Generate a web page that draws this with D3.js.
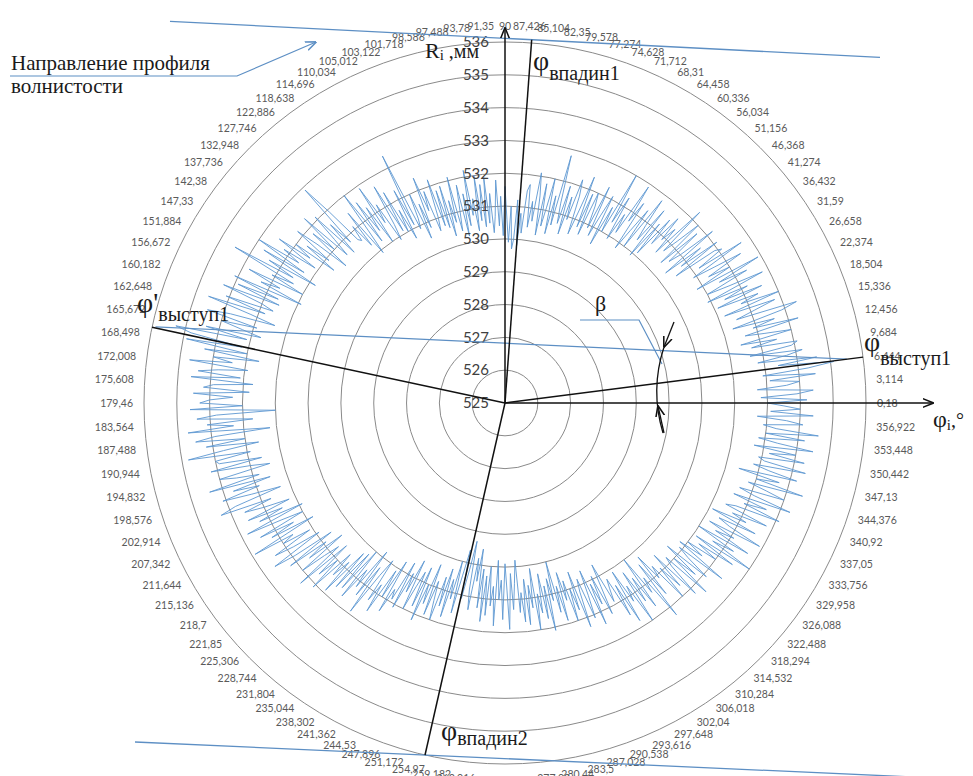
<!DOCTYPE html>
<html>
<head>
<meta charset="utf-8">
<script src="https://cdn.jsdelivr.net/npm/d3@7"></script>
<style>
  body { margin: 0; background: #fff; }
  svg { display: block; background: #fff; }
  .ring { fill: none; stroke: #8a8a8a; stroke-width: 1; }
  .catLabel { font-family: Lato, "Open Sans", sans-serif; font-size: 10.5px; fill: #5a5a5a; }
  .valLabel { font-family: Lato, "Open Sans", sans-serif; font-size: 15px; fill: #404040; }
  .note { font-family: "Liberation Serif", "DejaVu Serif", serif; fill: #1a1a1a; }
</style>
</head>
<body>
<div id="chart"></div>
<script>
var svgWidth = 973;
var svgHeight = 776;
var cx = 505;
var cy = 403;

// category labels round the chart (angle, degrees, as printed)
var angleLabels = [
  "0,18", "3,114", "6,444", "9,684", "12,456", "15,336", "18,504", "22,374", "26,658", "31,59",
  "36,432", "41,274", "46,368", "51,156", "56,034", "60,336", "64,458", "68,31", "71,712", "74,628",
  "77,274", "79,578", "82,35", "85,104", "87,426", "90", "91,35", "93,78", "97,488", "98,586",
  "101,718", "103,122", "105,012", "110,034", "114,696", "118,638", "122,886", "127,746", "132,948", "137,736",
  "142,38", "147,33", "151,884", "156,672", "160,182", "162,648", "165,672", "168,498", "172,008", "175,608",
  "179,46", "183,564", "187,488", "190,944", "194,832", "198,576", "202,914", "207,342", "211,644", "215,136",
  "218,7", "221,85", "225,306", "228,744", "231,804", "235,044", "238,302", "241,362", "244,53", "247,896",
  "251,172", "254,97", "259,182", "263,016", "266,76", "270,09", "273,546", "277,02", "280,44", "283,5",
  "287,028", "290,538", "293,616", "297,648", "302,04", "306,018", "310,284", "314,532", "318,294", "322,488",
  "326,088", "329,958", "333,756", "337,05", "340,92", "344,376", "347,13", "350,442", "353,448", "356,922"
];

// radius axis ticks, mm
var radiusTicks = [525, 526, 527, 528, 529, 530, 531, 532, 533, 534, 535, 536];

// measured radius Ri, mm, 600 points counter-clockwise from 0°
var profileRadius = [
  533.0, 534.2, 532.8, 533.9, 534.4, 532.7, 533.6, 534.0, 533.1, 534.5, 532.9, 534.3, 535.1, 533.4, 534.6, 532.8, 533.7, 534.2, 532.6, 533.9,
  534.1, 532.7, 533.5, 532.4, 534.0, 533.2, 532.6, 534.3, 532.9, 533.6, 532.3, 533.9, 534.4, 532.5, 533.1, 533.8, 532.2, 534.0, 532.8, 533.4,
  532.1, 533.6, 532.4, 533.2, 531.9, 533.8, 532.7, 532.0, 533.4, 532.5, 533.9, 531.8, 533.0, 532.3, 533.5, 532.6, 531.9, 533.7, 532.2, 533.1,
  532.9, 531.5, 533.1, 531.8, 532.6, 531.3, 533.2, 532.0, 531.6, 532.8, 531.4, 533.0, 532.2, 531.7, 533.3, 531.5, 532.4, 531.9, 532.7, 531.6,
  532.5, 531.1, 532.2, 530.9, 532.6, 531.4, 531.9, 532.8, 531.0, 532.3, 531.5, 530.8, 532.4, 531.7, 532.9, 531.2, 531.8, 530.9, 532.3, 531.4,
  533.0, 531.0, 531.8, 530.5, 532.1, 531.4, 530.7, 532.3, 530.9, 531.6, 532.0, 530.6, 531.9, 530.8, 532.4, 531.2, 530.5, 531.7, 532.2, 530.9,
  531.6, 530.4, 531.9, 530.7, 531.3, 532.8, 530.6, 531.5, 530.3, 532.0, 531.1, 530.5, 531.8, 530.2, 531.4, 532.1, 530.6, 531.2, 530.4, 531.7,
  531.5, 530.2, 530.8, 529.8, 531.2, 530.0, 529.7, 531.0, 529.9, 530.6, 531.6, 530.1, 531.3, 530.4, 531.8, 530.7, 530.2, 531.4, 530.5, 531.9,
  530.4, 531.7, 530.6, 532.0, 530.3, 531.3, 530.8, 532.2, 530.5, 531.5, 530.2, 531.8, 531.0, 530.4, 532.1, 530.7, 531.4, 530.3, 531.9, 530.6,
  531.8, 530.7, 532.2, 531.0, 530.6, 531.9, 531.3, 532.4, 530.8, 531.6, 530.5, 532.0, 531.2, 530.9, 533.4, 531.1, 532.3, 530.7, 531.7, 531.0,
  532.4, 531.1, 532.7, 531.4, 530.9, 532.2, 531.6, 532.9, 531.0, 532.3, 531.5, 532.6, 531.2, 533.0, 531.7, 530.9, 532.5, 531.3, 532.1, 531.6,
  531.7, 532.9, 533.9, 531.8, 532.6, 531.5, 533.1, 532.2, 531.6, 533.3, 532.0, 532.8, 531.4, 532.5, 533.2, 531.9, 532.7, 531.6, 533.0, 532.4,
  533.5, 532.1, 533.2, 532.6, 534.0, 532.3, 533.7, 531.8, 533.4, 532.5, 534.5, 532.4, 533.1, 532.0, 533.8, 532.7, 533.3, 531.9, 534.1, 532.6,
  533.9, 532.5, 534.3, 533.0, 532.6, 534.1, 532.8, 534.6, 533.2, 532.4, 533.8, 534.5, 532.9, 534.0, 533.3, 532.7, 534.4, 533.1, 535.3, 534.8,
  533.2, 534.9, 533.0, 534.3, 532.6, 534.0, 533.4, 534.7, 532.9, 533.8, 534.4, 533.1, 534.6, 532.7, 533.9, 534.2, 532.8, 534.5, 533.3, 534.0,
  534.3, 533.0, 534.6, 532.0, 533.8, 534.4, 532.7, 534.1, 533.3, 534.7, 532.2, 533.9, 534.5, 533.0, 534.2, 532.6, 533.7, 534.8, 532.9, 534.0,
  533.9, 532.6, 534.2, 533.0, 532.4, 534.0, 533.5, 532.8, 534.4, 532.5, 533.7, 532.9, 534.1, 533.2, 532.3, 533.8, 534.3, 532.7, 533.6, 533.0,
  532.2, 533.6, 532.5, 533.3, 531.9, 533.8, 532.7, 532.0, 533.5, 532.4, 533.2, 531.8, 533.9, 532.6, 533.0, 532.1, 533.4, 532.8, 531.9, 533.6,
  532.9, 531.6, 533.2, 531.9, 532.6, 531.4, 533.0, 532.2, 531.7, 533.3, 531.5, 532.7, 532.0, 533.1, 531.6, 532.4, 531.8, 532.9, 531.3, 532.6,
  531.2, 532.5, 531.0, 532.7, 531.6, 532.2, 530.8, 532.4, 531.3, 532.9, 531.5, 530.9, 532.3, 531.7, 532.6, 531.1, 532.0, 530.7, 532.4, 531.6,
  531.9, 530.6, 532.1, 530.9, 531.5, 530.4, 532.0, 531.2, 530.7, 531.8, 530.5, 532.2, 531.0, 531.6, 530.3, 531.9, 530.8, 531.4, 532.0, 530.6,
  531.5, 530.3, 531.8, 530.6, 531.2, 530.0, 531.6, 530.4, 529.6, 531.1, 530.2, 529.3, 530.8, 531.4, 529.8, 530.5, 529.5, 531.3, 530.1, 531.7,
  530.3, 531.5, 530.0, 531.2, 530.6, 531.8, 529.8, 531.0, 530.4, 531.6, 529.9, 530.7, 531.9, 530.2, 531.3, 530.5, 529.8, 531.4, 530.8, 531.7,
  530.4, 531.8, 530.6, 531.3, 530.1, 532.0, 530.9, 531.5, 530.3, 531.7, 530.7, 532.1, 530.5, 531.2, 530.0, 531.6, 530.8, 531.9, 530.4, 531.3,
  530.7, 532.0, 531.0, 531.7, 530.5, 532.3, 531.2, 530.8, 532.1, 531.4, 530.6, 532.4, 531.1, 531.8, 530.9, 532.2, 531.3, 530.6, 531.9, 531.5,
  531.2, 532.5, 531.5, 532.8, 531.1, 532.2, 531.7, 533.0, 531.3, 532.4, 531.6, 532.7, 531.0, 532.3, 531.8, 533.3, 531.4, 532.6, 531.2, 532.1,
  531.7, 533.0, 531.9, 532.7, 531.5, 533.2, 532.1, 531.8, 533.4, 532.0, 532.8, 531.6, 533.1, 532.3, 531.9, 533.5, 531.8, 532.6, 532.0, 533.0,
  532.3, 533.5, 532.1, 534.0, 532.6, 533.3, 532.0, 533.7, 532.5, 533.1, 532.2, 533.9, 532.8, 532.4, 533.6, 532.1, 533.2, 532.7, 533.8, 532.4,
  532.7, 534.1, 532.9, 533.6, 532.5, 534.3, 533.1, 532.6, 534.0, 533.4, 532.8, 534.5, 533.0, 533.7, 532.4, 534.2, 533.3, 532.8, 534.4, 533.1,
  532.9, 534.3, 533.2, 534.0, 532.7, 534.5, 533.4, 532.8, 534.2, 533.0, 534.6, 533.3, 532.9, 534.1, 533.6, 532.7, 534.4, 533.1, 534.0, 533.5
];

// marked directions: valleys and peaks (degrees, end radius mm)
var markAngles = [85.8, 257.2, 7.3, 167.9];
var markRadius = [536.1, 536.0, 536.0, 536.0];

var svg = d3
  .select("#chart")
  .append("svg")
  .attr("width", svgWidth)
  .attr("height", svgHeight);

var rScale = d3.scaleLinear().domain([525, 536]).range([0, 361]);
var aScale = d3
  .scaleLinear()
  .domain([0, profileRadius.length])
  .range([0, 2 * Math.PI]);
var labelScale = d3
  .scaleLinear()
  .domain([0, angleLabels.length])
  .range([0, 360]);

// polar (deg counter-clockwise from east, mm) -> screen
function pt(deg, mm) {
  var a = (deg * Math.PI) / 180;
  var r = rScale(mm);
  return [cx + r * Math.cos(a), cy - r * Math.sin(a)];
}

var defs = svg.append("defs");
function addArrow(id, color) {
  defs
    .append("marker")
    .attr("id", id)
    .attr("viewBox", "0 0 10 10")
    .attr("refX", 9.5)
    .attr("refY", 5)
    .attr("markerWidth", 11)
    .attr("markerHeight", 11)
    .attr("markerUnits", "userSpaceOnUse")
    .attr("orient", "auto")
    .append("path")
    .attr("d", "M0,1 L10,5 L0,9")
    .attr("fill", "none")
    .attr("stroke", color)
    .attr("stroke-width", 1.4);
}
addArrow("arrowBlack", "#111");
addArrow("arrowBlue", "#5d8fc4");

// rings
svg
  .append("g")
  .selectAll("circle")
  .data(radiusTicks.slice(1))
  .enter()
  .append("circle")
  .attr("class", "ring")
  .attr("cx", cx)
  .attr("cy", cy)
  .attr("r", (d) => rScale(d));

// profile line
var radial = d3
  .lineRadial()
  .angle((d, i) => Math.PI / 2 - aScale(i))
  .radius((d) => rScale(d))
  .curve(d3.curveLinearClosed);

svg
  .append("path")
  .datum(profileRadius)
  .attr("transform", `translate(${cx},${cy})`)
  .attr("d", radial)
  .attr("fill", "none")
  .attr("stroke", "#5e97d1")
  .attr("stroke-width", 0.9)
  .attr("stroke-linejoin", "miter");

// radius value labels
svg
  .append("g")
  .selectAll("text")
  .data(radiusTicks)
  .enter()
  .append("text")
  .attr("class", "valLabel")
  .attr("x", cx - 16)
  .attr("y", (d) => cy - rScale(d))
  .attr("dy", "0.35em")
  .attr("text-anchor", "end")
  .text((d) => d);

// angle labels round the outside
var labelR = rScale(536) + 11;
svg
  .append("g")
  .selectAll("text")
  .data(angleLabels)
  .enter()
  .append("text")
  .attr("class", "catLabel")
  .attr("text-anchor", "middle")
  .attr("dominant-baseline", "central")
  .text((d) => d)
  .each(function (d, i) {
    var th = (labelScale(i) * Math.PI) / 180;
    var w = this.getComputedTextLength();
    var h = 11;
    var px = cx + labelR * Math.cos(th);
    var py = cy - labelR * Math.sin(th);
    d3.select(this)
      .attr("x", px + (w / 2) * Math.cos(th))
      .attr("y", py - (h / 2) * Math.sin(th));
  });

// blue guide lines
var blue = "#5d8fc4";
var topEnd = pt(markAngles[0], markRadius[0]);
svg
  .append("line")
  .attr("x1", 170)
  .attr("y1", topEnd[1] - (topEnd[0] - 170) * 0.0507)
  .attr("x2", 880)
  .attr("y2", topEnd[1] + (880 - topEnd[0]) * 0.0507)
  .attr("stroke", blue)
  .attr("stroke-width", 1.3);

var botEnd = pt(markAngles[1], markRadius[1]);
svg
  .append("line")
  .attr("x1", 135)
  .attr("y1", botEnd[1] - (botEnd[0] - 135) * 0.045)
  .attr("x2", 973)
  .attr("y2", botEnd[1] + (973 - botEnd[0]) * 0.045)
  .attr("stroke", blue)
  .attr("stroke-width", 1.3);

// peak to peak line
var peakL = pt(167.7, 535.9);
var peakR = pt(7.3, 535.5);
svg
  .append("line")
  .attr("x1", peakL[0])
  .attr("y1", peakL[1])
  .attr("x2", peakR[0])
  .attr("y2", peakR[1])
  .attr("stroke", blue)
  .attr("stroke-width", 1.2);

// direction of waviness arrow
svg
  .append("path")
  .attr("d", "M10,76 L237,76 L316,42")
  .attr("fill", "none")
  .attr("stroke", blue)
  .attr("stroke-width", 1.2)
  .attr("marker-end", "url(#arrowBlue)");

// beta pointer
svg
  .append("path")
  .attr("d", `M${cx + 75},${cy - 83} L${cx + 134},${cy - 83} L${cx + 157},${cy - 39}`)
  .attr("fill", "none")
  .attr("stroke", blue)
  .attr("stroke-width", 1.2);

// axes arrows
svg
  .append("line")
  .attr("x1", cx)
  .attr("y1", cy)
  .attr("x2", cx)
  .attr("y2", cy - 375)
  .attr("stroke", "#111")
  .attr("stroke-width", 1.5)
  .attr("marker-end", "url(#arrowBlack)");

svg
  .append("line")
  .attr("x1", cx)
  .attr("y1", cy)
  .attr("x2", cx + 428)
  .attr("y2", cy)
  .attr("stroke", "#111")
  .attr("stroke-width", 1.5)
  .attr("marker-end", "url(#arrowBlack)");

// marked direction lines
svg
  .append("g")
  .selectAll("line")
  .data(markAngles)
  .enter()
  .append("line")
  .attr("x1", cx)
  .attr("y1", cy)
  .attr("x2", (d, i) => pt(d, markRadius[i])[0])
  .attr("y2", (d, i) => pt(d, markRadius[i])[1])
  .attr("stroke", "#111")
  .attr("stroke-width", 1.5);

// beta arc with arrows
svg
  .append("path")
  .attr("d", `M${cx + 159},${cy - 56} Q${cx + 145},${cy - 13} ${cx + 158},${cy + 30}`)
  .attr("fill", "none")
  .attr("stroke", "#111")
  .attr("stroke-width", 1.3);
svg
  .append("line")
  .attr("x1", cx + 169)
  .attr("y1", cy - 81)
  .attr("x2", cx + 159)
  .attr("y2", cy - 56)
  .attr("stroke", "#111")
  .attr("stroke-width", 1.3)
  .attr("marker-end", "url(#arrowBlack)");
svg
  .append("line")
  .attr("x1", cx + 159)
  .attr("y1", cy + 30)
  .attr("x2", cx + 153)
  .attr("y2", cy + 3)
  .attr("stroke", "#111")
  .attr("stroke-width", 1.3)
  .attr("marker-end", "url(#arrowBlack)");

// annotations
function phiNote(x, y, main, sub, subDy) {
  var t = svg.append("text").attr("class", "note").attr("x", x).attr("y", y);
  t.append("tspan").attr("font-size", 28).text(main);
  t.append("tspan").attr("font-size", 20).attr("dy", subDy).text(sub);
  return t;
}
phiNote(533, 70, "φ", "впадин1", 10);
phiNote(441, 740, "φ", "впадин2", 5);
phiNote(864, 351, "φ", "выступ1", 14);
phiNote(137, 312, "φ'", "выступ1", 9);

var ri = svg.append("text").attr("class", "note").attr("x", 425).attr("y", 58);
ri.append("tspan").attr("font-size", 22).text("R");
ri.append("tspan").attr("font-size", 15).attr("dy", 2).text("i");
ri.append("tspan").attr("font-size", 20).attr("dy", -2).text(" ,мм");

var phiI = svg.append("text").attr("class", "note").attr("x", 933).attr("y", 427);
phiI.append("tspan").attr("font-size", 24).text("φ");
phiI.append("tspan").attr("font-size", 15).attr("dy", 3).text("i");
phiI.append("tspan").attr("font-size", 20).attr("dy", -3).text(",°");

svg
  .append("text")
  .attr("class", "note")
  .attr("x", cx + 90)
  .attr("y", cy - 92)
  .attr("font-size", 22)
  .text("β");

svg
  .append("text")
  .attr("class", "note")
  .attr("x", 11)
  .attr("y", 70)
  .attr("font-size", 21)
  .text("Направление профиля");
svg
  .append("text")
  .attr("class", "note")
  .attr("x", 11)
  .attr("y", 93)
  .attr("font-size", 21)
  .text("волнистости");
</script>
</body>
</html>
